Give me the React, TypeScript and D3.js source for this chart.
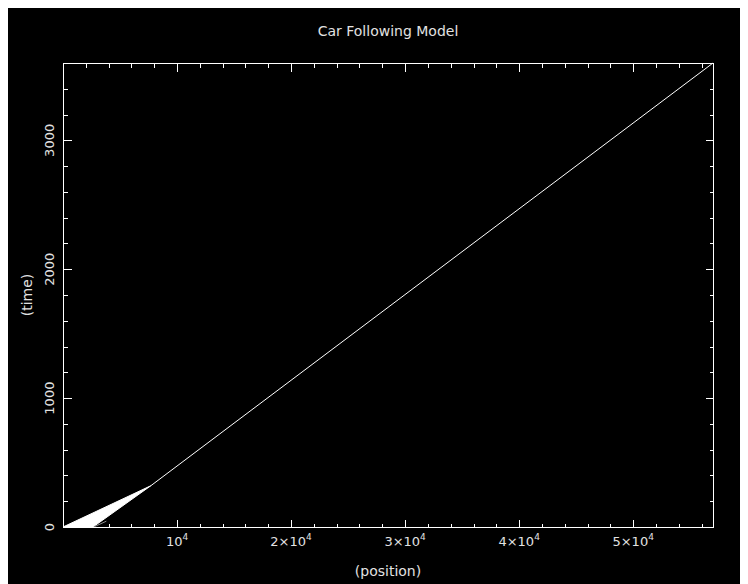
import React, { useEffect } from "react";
import * as d3 from "d3";

// ---- data ----
const xTickValues = [10000, 20000, 30000, 40000, 50000];
const xTickMantissa = ["", "2×", "3×", "4×", "5×"];
const yTickValues = [0, 1000, 2000, 3000];
const yTickLabels = ["0", "1000", "2000", "3000"];

// platoon of cars: rear car (starts at 0) and front car (starts ahead), merging
const rearCarPos = [0, 7700];
const rearCarTime = [0, 320];
const frontCarPos = [2630, 7700];
const frontCarTime = [0, 320];
// single merged trajectory afterwards
const convoyPos = [7700, 57000];
const convoyTime = [320, 3600];
// small faint trajectory near the start
const laggardPos = [2700, 3800];
const laggardTime = [0, 45];

const xDomain = [0, 57000];
const yDomain = [0, 3600];

const W = 740;
const H = 576;
const L = 55, R = 705, T = 55, B = 519;
const FONT = "'DejaVu Sans', sans-serif";
const TXT = "#e2e2e2";

export default function App() {
  useEffect(() => {
    document.documentElement.style.overflow = "hidden";
  }, []);

  const x = d3.scaleLinear().domain(xDomain).range([L, R]);
  const y = d3.scaleLinear().domain(yDomain).range([B, T]);

  const pts = (xs: number[], ys: number[]) => xs.map((v, i) => [v, ys[i]] as [number, number]);
  const line = d3.line<[number, number]>().x((d) => x(d[0])).y((d) => y(d[1]));

  const wedge = [...pts(rearCarPos, rearCarTime), ...pts(frontCarPos, frontCarTime).reverse()];

  const xMinor = d3.range(xDomain[0], xDomain[1] + 1, 2000);
  const yMinor = d3.range(yDomain[0], yDomain[1] + 1, 200);
  const MAJ = 8, MIN = 4;

  return (
    <svg width={W} height={H} style={{ display: "block", background: "#000" }}>
      <rect x={0} y={0} width={W} height={H} fill="#000" />
      <text x={(L + R) / 2} y={28} textAnchor="middle" fontFamily={FONT} fontSize={14} fill={TXT}>
        Car Following Model
      </text>

      {/* data */}
      <path d={(line(wedge) || "") + "Z"} fill="#fff" stroke="#fff" strokeWidth={1} />
      <path d={line(pts(convoyPos, convoyTime)) || ""} fill="none" stroke="#fff" strokeWidth={1} />
      <path d={line(pts(laggardPos, laggardTime)) || ""} fill="none" stroke="#8a8a8a" strokeWidth={1} />

      {/* axes box */}
      <rect x={L + 0.5} y={T + 0.5} width={R - L} height={B - T} fill="none" stroke="#fff" strokeWidth={1} shapeRendering="crispEdges" />

      {/* x ticks bottom & top */}
      {xMinor.map((v) => {
        const len = v % 10000 === 0 ? MAJ : MIN;
        const px = Math.round(x(v)) + 0.5;
        return (
          <g key={"xt" + v} stroke="#fff" strokeWidth={1} shapeRendering="crispEdges">
            <line x1={px} x2={px} y1={B + 0.5} y2={B + 0.5 - len} />
            <line x1={px} x2={px} y1={T + 0.5} y2={T + 0.5 + len} />
          </g>
        );
      })}
      {/* y ticks left & right */}
      {yMinor.map((v) => {
        const len = v % 1000 === 0 ? MAJ : MIN;
        const py = Math.round(y(v)) + 0.5;
        return (
          <g key={"yt" + v} stroke="#fff" strokeWidth={1} shapeRendering="crispEdges">
            <line x1={L + 0.5} x2={L + 0.5 + len} y1={py} y2={py} />
            <line x1={R + 0.5} x2={R + 0.5 - len} y1={py} y2={py} />
          </g>
        );
      })}

      {/* x tick labels */}
      {xTickValues.map((v, i) => (
        <text key={"xl" + v} x={x(v)} y={538} textAnchor="middle" fontFamily={FONT} fontSize={13} fill={TXT}>
          {xTickMantissa[i]}10
          <tspan dy={-6} fontSize={9}>4</tspan>
        </text>
      ))}
      <text x={(L + R) / 2} y={568} textAnchor="middle" fontFamily={FONT} fontSize={14} fill={TXT}>
        (position)
      </text>

      {/* y tick labels */}
      {yTickValues.map((v, i) => (
        <text key={"yl" + v} transform={`translate(45.5,${y(v)}) rotate(-90)`} textAnchor="middle" fontFamily={FONT} fontSize={13} fill={TXT}>
          {yTickLabels[i]}
        </text>
      ))}
      <text transform={`translate(24,${(T + B) / 2}) rotate(-90)`} textAnchor="middle" fontFamily={FONT} fontSize={14} fill={TXT}>
        (time)
      </text>
    </svg>
  );
}
